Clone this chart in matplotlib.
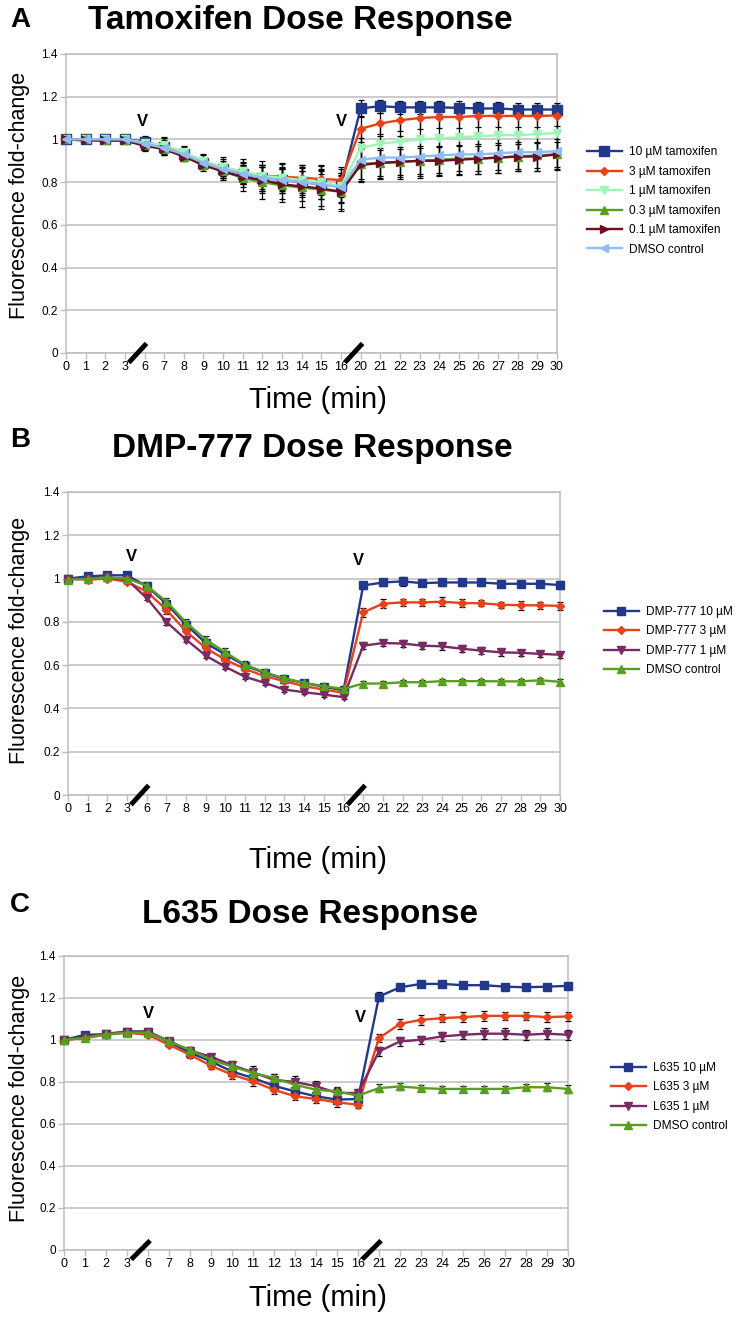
import matplotlib
matplotlib.use("Agg")
import matplotlib.pyplot as plt
from matplotlib.transforms import blended_transform_factory

plt.rcParams['font.family'] = ['Liberation Sans', 'DejaVu Sans']

W, H = 740, 1319

# --- Data ---
time_ab = ["0", "1", "2", "3", "6", "7", "8", "9", "10", "11", "12", "13", "14", "15", "16",
           "20", "21", "22", "23", "24", "25", "26", "27", "28", "29", "30"]
time_c = ["0", "1", "2", "3", "6", "7", "8", "9", "10", "11", "12", "13", "14", "15", "16",
          "21", "22", "23", "24", "25", "26", "27", "28", "29", "30"]

# Panel A: tamoxifen
tam_labels = ["10 µM tamoxifen", "3 µM tamoxifen", "1 µM tamoxifen",
              "0.3 µM tamoxifen", "0.1 µM tamoxifen", "DMSO control"]
tam_10 = [1.0, 1.0, 1.0, 1.0, 0.99, 0.965, 0.93, 0.89, 0.86, 0.84, 0.82, 0.81, 0.80, 0.79, 0.78,
          1.145, 1.156, 1.15, 1.15, 1.15, 1.148, 1.145, 1.145, 1.14, 1.14, 1.14]
tam_3 = [1.0, 1.0, 0.995, 0.995, 0.98, 0.97, 0.935, 0.895, 0.87, 0.845, 0.83, 0.825, 0.82, 0.815, 0.81,
         1.05, 1.075, 1.09, 1.10, 1.105, 1.105, 1.11, 1.11, 1.11, 1.11, 1.112]
tam_1 = [1.0, 1.0, 1.0, 1.0, 0.985, 0.975, 0.94, 0.90, 0.87, 0.85, 0.83, 0.82, 0.81, 0.80, 0.78,
         0.96, 0.98, 0.99, 1.0, 1.005, 1.01, 1.015, 1.02, 1.02, 1.025, 1.03]
tam_03 = [1.0, 1.0, 0.995, 0.995, 0.975, 0.955, 0.92, 0.88, 0.85, 0.82, 0.80, 0.785, 0.775, 0.765, 0.755,
          0.885, 0.89, 0.895, 0.90, 0.905, 0.91, 0.91, 0.915, 0.92, 0.925, 0.93]
tam_01 = [1.0, 0.995, 0.995, 0.995, 0.97, 0.955, 0.92, 0.88, 0.85, 0.825, 0.81, 0.79, 0.78, 0.77, 0.755,
          0.88, 0.89, 0.895, 0.90, 0.90, 0.905, 0.91, 0.915, 0.92, 0.92, 0.93]
tam_dmso = [1.0, 1.0, 1.0, 1.0, 0.98, 0.96, 0.93, 0.89, 0.86, 0.84, 0.82, 0.81, 0.80, 0.79, 0.775,
            0.905, 0.915, 0.915, 0.92, 0.925, 0.93, 0.93, 0.935, 0.94, 0.94, 0.945]
tam_10_err = [0.01, 0.01, 0.01, 0.01, 0.02, 0.03, 0.02, 0.02, 0.03, 0.04, 0.05, 0.05, 0.05, 0.05, 0.05,
              0.04, 0.03, 0.03, 0.03, 0.03, 0.03, 0.03, 0.03, 0.03, 0.03, 0.03]
tam_3_err = [0.01, 0.01, 0.01, 0.01, 0.03, 0.04, 0.03, 0.03, 0.04, 0.05, 0.05, 0.06, 0.06, 0.06, 0.06,
             0.06, 0.05, 0.05, 0.05, 0.05, 0.05, 0.05, 0.05, 0.05, 0.05, 0.05]
tam_1_err = [0.01, 0.01, 0.01, 0.01, 0.03, 0.03, 0.03, 0.03, 0.05, 0.06, 0.07, 0.07, 0.07, 0.08, 0.08,
             0.09, 0.10, 0.10, 0.10, 0.09, 0.09, 0.09, 0.09, 0.09, 0.09, 0.09]
tam_03_err = [0.01, 0.01, 0.01, 0.01, 0.03, 0.03, 0.02, 0.03, 0.04, 0.06, 0.08, 0.08, 0.09, 0.09, 0.09,
              0.07, 0.06, 0.06, 0.06, 0.06, 0.06, 0.06, 0.06, 0.06, 0.06, 0.06]
tam_01_err = [0.01, 0.01, 0.01, 0.01, 0.02, 0.03, 0.02, 0.02, 0.03, 0.05, 0.06, 0.07, 0.07, 0.08, 0.08,
              0.08, 0.07, 0.07, 0.07, 0.07, 0.07, 0.07, 0.07, 0.07, 0.07, 0.07]
tam_dmso_err = [0.01, 0.01, 0.01, 0.01, 0.02, 0.02, 0.02, 0.02, 0.04, 0.05, 0.06, 0.06, 0.07, 0.07, 0.07,
                0.10, 0.10, 0.10, 0.10, 0.09, 0.09, 0.09, 0.09, 0.09, 0.09, 0.09]

# Panel B: DMP-777
dmp_labels = ["DMP-777 10 µM", "DMP-777 3 µM", "DMP-777 1 µM", "DMSO control"]
dmp_10 = [1.0, 1.01, 1.015, 1.015, 0.965, 0.884, 0.787, 0.702, 0.649, 0.598, 0.564, 0.536, 0.518, 0.50, 0.484,
          0.968, 0.982, 0.987, 0.979, 0.982, 0.982, 0.982, 0.976, 0.976, 0.976, 0.97]
dmp_3 = [1.0, 0.995, 1.0, 0.985, 0.94, 0.856, 0.756, 0.679, 0.625, 0.582, 0.549, 0.526, 0.503, 0.487, 0.472,
         0.844, 0.884, 0.89, 0.89, 0.893, 0.887, 0.886, 0.879, 0.877, 0.876, 0.874]
dmp_1 = [1.0, 1.0, 1.005, 0.995, 0.91, 0.80, 0.718, 0.644, 0.592, 0.546, 0.518, 0.487, 0.475, 0.464, 0.452,
         0.69, 0.702, 0.70, 0.69, 0.687, 0.676, 0.667, 0.659, 0.657, 0.652, 0.648]
dmp_dmso = [0.995, 0.998, 1.005, 1.0, 0.967, 0.894, 0.797, 0.718, 0.659, 0.602, 0.567, 0.539, 0.518, 0.503, 0.49,
            0.515, 0.515, 0.521, 0.521, 0.526, 0.526, 0.526, 0.525, 0.525, 0.53, 0.523]
dmp_10_err = [0.005, 0.01, 0.01, 0.01, 0.015, 0.015, 0.015, 0.015, 0.015, 0.01, 0.01, 0.01, 0.01, 0.01, 0.01,
              0.015, 0.015, 0.02, 0.015, 0.015, 0.015, 0.015, 0.015, 0.015, 0.015, 0.02]
dmp_3_err = [0.005, 0.01, 0.01, 0.01, 0.015, 0.02, 0.02, 0.015, 0.015, 0.01, 0.01, 0.01, 0.01, 0.01, 0.01,
             0.02, 0.02, 0.015, 0.015, 0.02, 0.02, 0.015, 0.015, 0.02, 0.015, 0.02]
dmp_1_err = [0.005, 0.01, 0.01, 0.01, 0.01, 0.015, 0.01, 0.01, 0.01, 0.01, 0.01, 0.01, 0.01, 0.01, 0.01,
             0.015, 0.015, 0.015, 0.015, 0.015, 0.015, 0.015, 0.015, 0.015, 0.015, 0.015]
dmp_dmso_err = [0.005, 0.01, 0.01, 0.01, 0.015, 0.015, 0.015, 0.015, 0.02, 0.015, 0.01, 0.01, 0.01, 0.01, 0.01,
                0.012, 0.012, 0.012, 0.012, 0.012, 0.012, 0.012, 0.012, 0.012, 0.012, 0.012]

# Panel C: L635
l635_labels = ["L635 10 µM", "L635 3 µM", "L635 1 µM", "DMSO control"]
l635_10 = [1.0, 1.025, 1.027, 1.04, 1.04, 0.99, 0.94, 0.898, 0.85, 0.819, 0.782, 0.755, 0.732, 0.716, 0.719,
           1.207, 1.251, 1.267, 1.267, 1.261, 1.261, 1.254, 1.251, 1.254, 1.258]
l635_3 = [1.0, 1.01, 1.025, 1.035, 1.025, 0.977, 0.93, 0.877, 0.835, 0.803, 0.763, 0.732, 0.719, 0.703, 0.692,
          1.009, 1.077, 1.096, 1.104, 1.109, 1.115, 1.115, 1.115, 1.109, 1.112]
l635_1 = [1.0, 1.015, 1.03, 1.04, 1.04, 0.995, 0.95, 0.92, 0.88, 0.846, 0.81, 0.80, 0.78, 0.748, 0.748,
          0.946, 0.993, 1.001, 1.017, 1.025, 1.03, 1.03, 1.025, 1.03, 1.025]
l635_dmso = [1.0, 1.01, 1.027, 1.035, 1.035, 0.993, 0.953, 0.906, 0.874, 0.843, 0.819, 0.787, 0.763, 0.755, 0.735,
             0.771, 0.779, 0.771, 0.767, 0.767, 0.767, 0.767, 0.775, 0.775, 0.767]
l635_10_err = [0.005, 0.01, 0.01, 0.01, 0.01, 0.01, 0.01, 0.01, 0.015, 0.015, 0.015, 0.015, 0.015, 0.015, 0.015,
               0.02, 0.015, 0.015, 0.015, 0.015, 0.015, 0.015, 0.015, 0.015, 0.015]
l635_3_err = [0.005, 0.01, 0.01, 0.01, 0.01, 0.01, 0.015, 0.015, 0.02, 0.02, 0.02, 0.02, 0.02, 0.02, 0.015,
              0.02, 0.025, 0.025, 0.02, 0.025, 0.025, 0.02, 0.02, 0.025, 0.02]
l635_1_err = [0.005, 0.01, 0.01, 0.01, 0.01, 0.01, 0.015, 0.015, 0.02, 0.03, 0.03, 0.03, 0.025, 0.025, 0.02,
              0.02, 0.02, 0.02, 0.02, 0.02, 0.025, 0.025, 0.025, 0.025, 0.025]
l635_dmso_err = [0.005, 0.01, 0.01, 0.01, 0.01, 0.01, 0.015, 0.015, 0.015, 0.02, 0.02, 0.02, 0.02, 0.02, 0.02,
                 0.02, 0.015, 0.015, 0.015, 0.015, 0.015, 0.015, 0.015, 0.02, 0.02]

# --- Styles ---
NAVY = "#22388a"
ORANGE = "#e8421c"
LIGHTGREEN = "#9ff5b4"
GREEN = "#5a9e20"
MAROON = "#6a1020"
LIGHTBLUE = "#8fbcf5"
PURPLE = "#7a2a62"
GRID = "#bdbdbd"


def px(x, y):
    """Pixel position (from top-left) to figure fraction."""
    return x / W, 1 - y / H


def draw_panel(ax, cats, series, errs, labels, colors, markers, msizes, breaks, v_marks,
               legend_xy):
    idx = list(range(len(cats)))
    handles = []
    for vals, err, col, mk, ms in zip(series, errs, colors, markers, msizes):
        cont = ax.errorbar(idx, vals, yerr=err, color=col, marker=mk, markersize=ms,
                           markeredgecolor=col, linewidth=1.7, ecolor="black", elinewidth=0.9,
                           capsize=2.4, capthick=0.9, clip_on=False, zorder=3)
        handles.append(cont[0])
    ax.set_xlim(0, len(cats) - 1)
    ax.set_ylim(0, 1.4)
    ax.set_xticks(idx)
    ax.set_xticklabels(cats, fontsize=9)
    ax.set_yticks([0, 0.2, 0.4, 0.6, 0.8, 1.0, 1.2, 1.4])
    ax.set_yticklabels(["0", "0.2", "0.4", "0.6", "0.8", "1", "1.2", "1.4"], fontsize=8.5)
    ax.yaxis.grid(True, color=GRID, linewidth=1.1)
    ax.set_axisbelow(True)
    for s in ax.spines.values():
        s.set_color(GRID)
        s.set_linewidth(1.1)
    ax.tick_params(axis="both", color=GRID, length=4, width=1, pad=2)

    # axis-break slashes
    tr = blended_transform_factory(ax.transData, ax.transAxes)
    for b in breaks:
        ax.plot([b + 0.2, b + 1.1], [-0.032, 0.032], color="black", linewidth=3.5,
                transform=tr, clip_on=False, zorder=5, solid_capstyle="butt")
    # addition markers
    for vx, vy in v_marks:
        ax.text(vx, vy, "V", ha="center", va="center", fontsize=12, fontweight="bold")

    ax.legend(handles, labels, loc="center left", bbox_to_anchor=legend_xy,
              bbox_transform=ax.figure.transFigure, frameon=False, fontsize=8.6,
              handlelength=2.9, handletextpad=0.6, labelspacing=0.62, borderpad=0,
              borderaxespad=0)


fig = plt.figure(figsize=(W / 100, H / 100), dpi=100)

# Panel A
axA = fig.add_axes([66 / W, 1 - 353 / H, 491 / W, 299 / H])
draw_panel(axA, time_ab,
           [tam_10, tam_3, tam_1, tam_03, tam_01, tam_dmso],
           [tam_10_err, tam_3_err, tam_1_err, tam_03_err, tam_01_err, tam_dmso_err],
           tam_labels,
           [NAVY, ORANGE, LIGHTGREEN, GREEN, MAROON, LIGHTBLUE],
           ["s", "D", "v", "^", ">", "<"], [7, 4, 6, 6, 6, 6],
           [3, 14], [(3.9, 1.085), (14.0, 1.085)], px(587, 201))

# Panel B
axB = fig.add_axes([68 / W, 1 - 795 / H, 492 / W, 303 / H])
draw_panel(axB, time_ab,
           [dmp_10, dmp_3, dmp_1, dmp_dmso],
           [dmp_10_err, dmp_3_err, dmp_1_err, dmp_dmso_err],
           dmp_labels,
           [NAVY, ORANGE, PURPLE, GREEN],
           ["s", "D", "v", "^"], [6, 4, 6, 6],
           [3, 14], [(3.2, 1.1), (14.75, 1.085)], px(604, 641))

# Panel C
axC = fig.add_axes([64 / W, 1 - 1250 / H, 504 / W, 294 / H])
draw_panel(axC, time_c,
           [l635_10, l635_3, l635_1, l635_dmso],
           [l635_10_err, l635_3_err, l635_1_err, l635_dmso_err],
           l635_labels,
           [NAVY, ORANGE, PURPLE, GREEN],
           ["s", "D", "v", "^"], [6, 4, 6, 6],
           [3, 14], [(4.0, 1.125), (14.1, 1.105)], px(611, 1097))

# Titles, panel letters, axis labels
for letter, title, ly, tx, ty in [("A", "Tamoxifen Dose Response", 20, 300, 20),
                                  ("B", "DMP-777 Dose Response", 440, 312, 448),
                                  ("C", "L635 Dose Response", 905, 310, 915)]:
    fig.text(*px(20, ly), letter, fontsize=20, fontweight="bold", ha="center", va="center")
    fig.text(*px(tx, ty), title, fontsize=24, fontweight="bold", ha="center", va="center")

for ax, xlab_y, ylab_y in [(axA, 400, 195), (axB, 860, 640), (axC, 1298, 1098)]:
    fig.text(*px(318, xlab_y), "Time (min)", fontsize=21, ha="center", va="center")
    fig.text(*px(20, ylab_y), "Fluorescence fold-change", fontsize=15.5, ha="center",
             va="center", rotation=90)

fig.savefig("out.png", dpi=100)
